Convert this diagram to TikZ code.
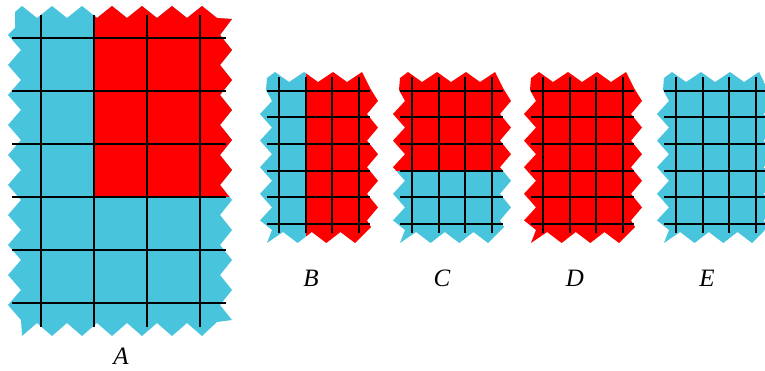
\documentclass[tikz,border=0pt]{standalone}
\usepackage{fontspec}
\setmainfont{Liberation Serif}
\definecolor{cblue}{RGB}{72,196,220}
\definecolor{cred}{RGB}{255,0,0}
\tikzset{
  gridline/.style={black,line width=1.4pt},
  lbl/.style={font=\fontsize{25}{30}\selectfont\itshape, inner sep=0pt}
}
\newcommand{\Apath}{(15,12) \foreach \k in {0,...,6}{ -- ({22+30*\k},6) -- ({37+30*\k},18) } -- (232,19)
  \foreach \k in {0,...,9}{ -- (220,{35+30*\k}) -- (232,{50+30*\k}) } -- (217,322) -- (202,336)
  \foreach \k in {0,...,5}{ -- ({187-30*\k},323) -- ({172-30*\k},336) } -- (21,320)
  \foreach \k in {0,...,8}{ -- (8,{305-30*\k}) -- (21,{290-30*\k}) } -- (8,35) -- (15,28) -- cycle}
\newcommand{\Bpath}{(267,78) \foreach \k in {0,...,2}{ -- ({275+29*\k},72) -- ({289+29*\k},82) } -- (362,72) -- (370,88)
  \foreach \k in {0,...,4}{ -- (378,{101+26.6*\k}) -- (367,{114+26.6*\k}) } -- (371,227)
  \foreach \k in {0,...,2}{ -- ({355-28.7*\k},243) -- ({340.5-28.7*\k},232) } -- (267,243) -- (272,230)
  \foreach \k in {0,...,4}{ -- (260,{220.4-26.6*\k}) -- (272,{207.4-26.6*\k}) } -- (266,90) -- cycle}
\newcommand{\smallgrid}{%
  \foreach \x in {279,306,332,359}{ \draw[gridline] (\x,77) -- (\x,233); }
  \foreach \y in {91,117,144,171,197,224}{ \draw[gridline] (267,\y) -- (370,\y); }}
\begin{document}
\begin{tikzpicture}[x=1pt,y=-1pt]
\useasboundingbox (0,0) rectangle (765,371);
% A
\begin{scope}
  \clip \Apath;
  \fill[cblue] (0,0) rectangle (240,340);
  \fill[cred] (94,0) rectangle (240,197);
\end{scope}
\foreach \x in {41,94,147,200}{ \draw[gridline] (\x,15) -- (\x,327); }
\foreach \y in {38,91,144,197,250,303}{ \draw[gridline] (12,\y) -- (226,\y); }
% B
\begin{scope}
  \begin{scope}
    \clip \Bpath;
    \fill[cblue] (250,60) rectangle (306,250);
    \fill[cred] (306,60) rectangle (390,250);
  \end{scope}
  \smallgrid
\end{scope}
% C
\begin{scope}[shift={(133,0)}]
  \begin{scope}
    \clip \Bpath;
    \fill[cred] (250,60) rectangle (390,171);
    \fill[cblue] (250,171) rectangle (390,250);
  \end{scope}
  \smallgrid
\end{scope}
% D
\begin{scope}[shift={(264,0)}]
  \begin{scope}
    \clip \Bpath;
    \fill[cred] (250,60) rectangle (390,250);
  \end{scope}
  \smallgrid
\end{scope}
% E
\begin{scope}[shift={(397,0)}]
  \begin{scope}
    \clip \Bpath;
    \fill[cblue] (250,60) rectangle (390,250);
  \end{scope}
  \smallgrid
\end{scope}
\node[lbl] (labA) at (121,356) {A};
\node[lbl] (labB) at (311,278) {B};
\node[lbl] (labC) at (442,278) {C};
\node[lbl] (labD) at (575,278) {D};
\node[lbl] (labE) at (707,278) {E};
\end{tikzpicture}
\end{document}
